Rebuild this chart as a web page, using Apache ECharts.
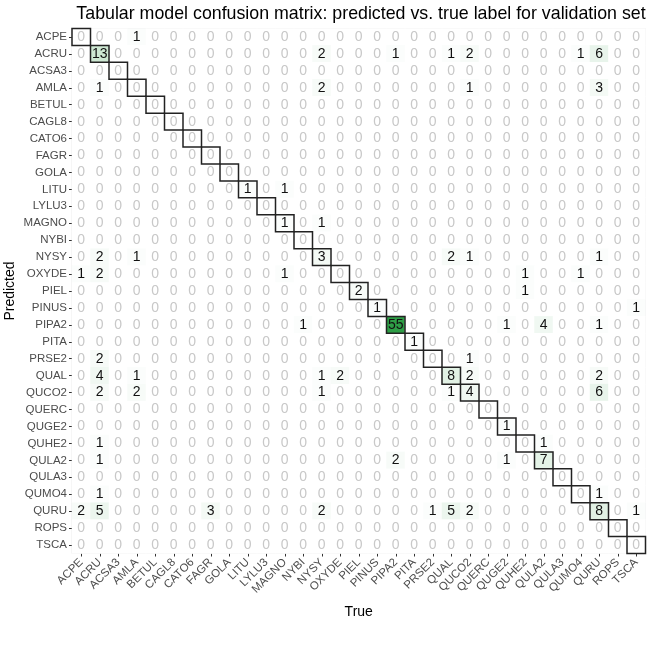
<!DOCTYPE html>
<html>
<head>
<meta charset="utf-8">
<title>Confusion matrix</title>
<script src="https://cdn.jsdelivr.net/npm/echarts@6/dist/echarts.min.js"></script>
<style>
  html, body { margin: 0; padding: 0; background: #fff; }
  #main { width: 648px; height: 648px; }
</style>
</head>
<body>
<div id="main"></div>
<script>
// class labels, same order on both axes
var labels = ['ACPE', 'ACRU', 'ACSA3', 'AMLA', 'BETUL', 'CAGL8', 'CATO6', 'FAGR', 'GOLA', 'LITU',
  'LYLU3', 'MAGNO', 'NYBI', 'NYSY', 'OXYDE', 'PIEL', 'PINUS', 'PIPA2', 'PITA', 'PRSE2',
  'QUAL', 'QUCO2', 'QUERC', 'QUGE2', 'QUHE2', 'QULA2', 'QULA3', 'QUMO4', 'QURU', 'ROPS', 'TSCA'];

// counts: one row per predicted label, one column per true label
var counts = [
  [0,0,0,1,0, 0,0,0,0,0, 0,0,0,0,0, 0,0,0,0,0, 0,0,0,0,0, 0,0,0,0,0, 0], // ACPE
  [0,13,0,0,0, 0,0,0,0,0, 0,0,0,2,0, 0,0,1,0,0, 1,2,0,0,0, 0,0,1,6,0, 0], // ACRU
  [0,0,0,0,0, 0,0,0,0,0, 0,0,0,0,0, 0,0,0,0,0, 0,0,0,0,0, 0,0,0,0,0, 0], // ACSA3
  [0,1,0,0,0, 0,0,0,0,0, 0,0,0,2,0, 0,0,0,0,0, 0,1,0,0,0, 0,0,0,3,0, 0], // AMLA
  [0,0,0,0,0, 0,0,0,0,0, 0,0,0,0,0, 0,0,0,0,0, 0,0,0,0,0, 0,0,0,0,0, 0], // BETUL
  [0,0,0,0,0, 0,0,0,0,0, 0,0,0,0,0, 0,0,0,0,0, 0,0,0,0,0, 0,0,0,0,0, 0], // CAGL8
  [0,0,0,0,0, 0,0,0,0,0, 0,0,0,0,0, 0,0,0,0,0, 0,0,0,0,0, 0,0,0,0,0, 0], // CATO6
  [0,0,0,0,0, 0,0,0,0,0, 0,0,0,0,0, 0,0,0,0,0, 0,0,0,0,0, 0,0,0,0,0, 0], // FAGR
  [0,0,0,0,0, 0,0,0,0,0, 0,0,0,0,0, 0,0,0,0,0, 0,0,0,0,0, 0,0,0,0,0, 0], // GOLA
  [0,0,0,0,0, 0,0,0,0,1, 0,1,0,0,0, 0,0,0,0,0, 0,0,0,0,0, 0,0,0,0,0, 0], // LITU
  [0,0,0,0,0, 0,0,0,0,0, 0,0,0,0,0, 0,0,0,0,0, 0,0,0,0,0, 0,0,0,0,0, 0], // LYLU3
  [0,0,0,0,0, 0,0,0,0,0, 0,1,0,1,0, 0,0,0,0,0, 0,0,0,0,0, 0,0,0,0,0, 0], // MAGNO
  [0,0,0,0,0, 0,0,0,0,0, 0,0,0,0,0, 0,0,0,0,0, 0,0,0,0,0, 0,0,0,0,0, 0], // NYBI
  [0,2,0,1,0, 0,0,0,0,0, 0,0,0,3,0, 0,0,0,0,0, 2,1,0,0,0, 0,0,0,1,0, 0], // NYSY
  [1,2,0,0,0, 0,0,0,0,0, 0,1,0,0,0, 0,0,0,0,0, 0,0,0,0,1, 0,0,1,0,0, 0], // OXYDE
  [0,0,0,0,0, 0,0,0,0,0, 0,0,0,0,0, 2,0,0,0,0, 0,0,0,0,1, 0,0,0,0,0, 0], // PIEL
  [0,0,0,0,0, 0,0,0,0,0, 0,0,0,0,0, 0,1,0,0,0, 0,0,0,0,0, 0,0,0,0,0, 1], // PINUS
  [0,0,0,0,0, 0,0,0,0,0, 0,0,1,0,0, 0,0,55,0,0, 0,0,0,1,0, 4,0,0,1,0, 0], // PIPA2
  [0,0,0,0,0, 0,0,0,0,0, 0,0,0,0,0, 0,0,0,1,0, 0,0,0,0,0, 0,0,0,0,0, 0], // PITA
  [0,2,0,0,0, 0,0,0,0,0, 0,0,0,0,0, 0,0,0,0,0, 0,1,0,0,0, 0,0,0,0,0, 0], // PRSE2
  [0,4,0,1,0, 0,0,0,0,0, 0,0,0,1,2, 0,0,0,0,0, 8,2,0,0,0, 0,0,0,2,0, 0], // QUAL
  [0,2,0,2,0, 0,0,0,0,0, 0,0,0,1,0, 0,0,0,0,0, 1,4,0,0,0, 0,0,0,6,0, 0], // QUCO2
  [0,0,0,0,0, 0,0,0,0,0, 0,0,0,0,0, 0,0,0,0,0, 0,0,0,0,0, 0,0,0,0,0, 0], // QUERC
  [0,0,0,0,0, 0,0,0,0,0, 0,0,0,0,0, 0,0,0,0,0, 0,0,0,1,0, 0,0,0,0,0, 0], // QUGE2
  [0,1,0,0,0, 0,0,0,0,0, 0,0,0,0,0, 0,0,0,0,0, 0,0,0,0,0, 1,0,0,0,0, 0], // QUHE2
  [0,1,0,0,0, 0,0,0,0,0, 0,0,0,0,0, 0,0,2,0,0, 0,0,0,1,0, 7,0,0,0,0, 0], // QULA2
  [0,0,0,0,0, 0,0,0,0,0, 0,0,0,0,0, 0,0,0,0,0, 0,0,0,0,0, 0,0,0,0,0, 0], // QULA3
  [0,1,0,0,0, 0,0,0,0,0, 0,0,0,0,0, 0,0,0,0,0, 0,0,0,0,0, 0,0,0,1,0, 0], // QUMO4
  [2,5,0,0,0, 0,0,3,0,0, 0,0,0,2,0, 0,0,0,0,1, 5,2,0,0,0, 0,0,0,8,0, 1], // QURU
  [0,0,0,0,0, 0,0,0,0,0, 0,0,0,0,0, 0,0,0,0,0, 0,0,0,0,0, 0,0,0,0,0, 0], // ROPS
  [0,0,0,0,0, 0,0,0,0,0, 0,0,0,0,0, 0,0,0,0,0, 0,0,0,0,0, 0,0,0,0,0, 0]  // TSCA
];

var font = 'Liberation Sans, Arial, Helvetica, sans-serif';

// heatmap cells [true, predicted, count]
var cells = [];
var diag = [];
counts.forEach(function (row, r) {
  row.forEach(function (v, c) {
    cells.push({
      value: [c, r, v],
      label: { color: v === 0 ? '#c8c8c8' : '#111' }
    });
    if (r === c) diag.push([c, r, v]);
  });
});

var myChart = echarts.init(document.getElementById('main'));

var option = {
  backgroundColor: '#fff',
  animation: false,
  title: {
    text: 'Tabular model confusion matrix: predicted vs. true label for validation set',
    left: 356,
    top: 0,
    textAlign: 'center',
    textStyle: { fontFamily: font, fontSize: 17.8, fontWeight: 'normal', color: '#000' }
  },
  grid: {
    left: 72, right: 2.5, top: 28.5, bottom: 94.5,
    outerBoundsMode: 'none',
    show: true, borderColor: '#e6e6e6', borderWidth: 1, backgroundColor: '#fff'
  },
  xAxis: {
    type: 'category',
    data: labels,
    name: 'True',
    nameLocation: 'middle',
    nameGap: 52,
    nameMoveOverlap: false,
    nameTextStyle: { fontFamily: font, fontSize: 14, color: '#000' },
    axisLine: { show: false },
    axisTick: { show: true, alignWithLabel: true, length: 3, lineStyle: { color: '#333' } },
    axisLabel: { rotate: 45, interval: 0, margin: 7, fontFamily: font, fontSize: 11.5, color: '#4d4d4d' },
    splitLine: { show: false }
  },
  yAxis: {
    type: 'category',
    data: labels,
    inverse: true,
    name: 'Predicted',
    nameLocation: 'middle',
    nameGap: 55,
    nameMoveOverlap: false,
    nameTextStyle: { fontFamily: font, fontSize: 14, color: '#000' },
    axisLine: { show: false },
    axisTick: { show: true, alignWithLabel: true, length: 3, lineStyle: { color: '#333' } },
    axisLabel: { interval: 0, margin: 5, fontFamily: font, fontSize: 11.5, color: '#4d4d4d' },
    splitLine: { show: false }
  },
  visualMap: {
    show: false,
    type: 'continuous',
    seriesIndex: 0,
    dimension: 2,
    min: 0,
    max: 55,
    inRange: { color: ['#ffffff', '#2e9e46'] }
  },
  series: [
    {
      type: 'heatmap',
      data: cells,
      label: {
        show: true,
        fontFamily: font,
        fontSize: 14,
        formatter: function (p) { return p.value[2]; }
      },
      emphasis: { disabled: true }
    },
    {
      // outline round the diagonal (correct predictions)
      type: 'custom',
      data: diag,
      z: 5,
      silent: true,
      renderItem: function (params, api) {
        var p = api.coord([api.value(0), api.value(1)]);
        var s = api.size([1, 1]);
        return {
          type: 'rect',
          shape: { x: p[0] - s[0] / 2, y: p[1] - s[1] / 2, width: s[0], height: s[1] },
          style: { fill: 'none', stroke: '#222', lineWidth: 1.5 }
        };
      }
    }
  ]
};

myChart.setOption(option);
</script>
</body>
</html>
